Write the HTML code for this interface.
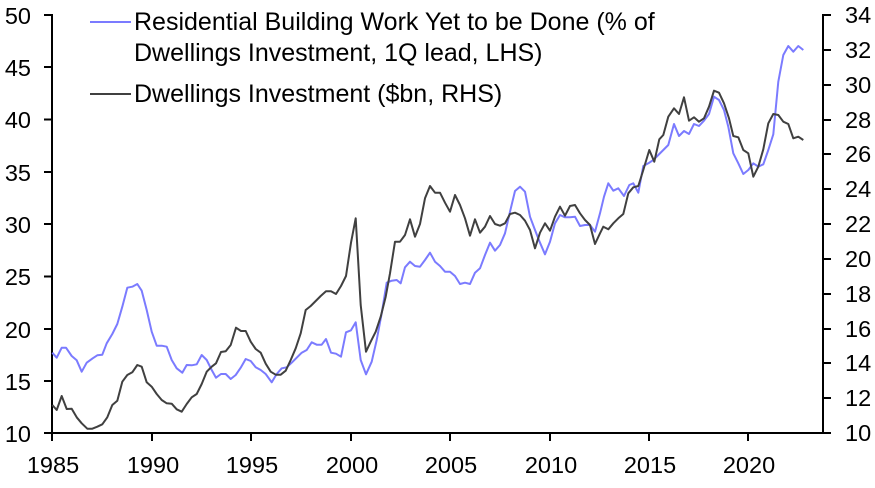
<!DOCTYPE html>
<html><head><meta charset="utf-8"><style>
html,body{margin:0;padding:0;background:#fff;}
svg{display:block;font-family:"Liberation Sans",Arial,sans-serif;}
</style></head><body>
<svg width="875" height="488" viewBox="0 0 875 488" xmlns="http://www.w3.org/2000/svg">
<g stroke="#000" stroke-width="2" fill="none">
<line x1="52" y1="14" x2="52" y2="433"/>
<line x1="823" y1="14" x2="823" y2="433"/>
<line x1="51" y1="433" x2="824" y2="433"/>
<path d="M44 15H52M44 67H52M44 119.5H52M44 172H52M44 224H52M44 276.5H52M44 329H52M44 381H52M44 433H52"/>
<path d="M823 15H831M823 50H831M823 85H831M823 120H831M823 154H831M823 189H831M823 224H831M823 259H831M823 294H831M823 329H831M823 363H831M823 398H831M823 433H831"/>
<path d="M52 433V441M152 433V441M251 433V441M351 433V441M450 433V441M550 433V441M649 433V441M748 433V441"/>
</g>
<g font-size="23.5" fill="#000" text-anchor="end">
<text x="31" y="24">50</text><text x="31" y="76">45</text><text x="31" y="128">40</text><text x="31" y="181">35</text><text x="31" y="233">30</text><text x="31" y="285">25</text><text x="31" y="338">20</text><text x="31" y="390">15</text><text x="31" y="442">10</text>
</g>
<g font-size="23.5" fill="#000" text-anchor="start">
<text x="845" y="23">34</text><text x="845" y="58">32</text><text x="845" y="93">30</text><text x="845" y="128">28</text><text x="845" y="162">26</text><text x="845" y="197">24</text><text x="845" y="232">22</text><text x="845" y="267">20</text><text x="845" y="302">18</text><text x="845" y="337">16</text><text x="845" y="371">14</text><text x="845" y="406">12</text><text x="845" y="441">10</text>
</g>
<g font-size="23.5" fill="#000" text-anchor="middle">
<text x="53" y="473">1985</text><text x="153" y="473">1990</text><text x="252" y="473">1995</text><text x="352" y="473">2000</text><text x="451" y="473">2005</text><text x="551" y="473">2010</text><text x="650" y="473">2015</text><text x="749" y="473">2020</text>
</g>
<polyline fill="none" stroke="#7B7BFF" stroke-width="2" stroke-linejoin="round" points="52.3,352.7 56.7,357.7 61.7,347.7 66,347.7 71.7,356 76.7,360.3 81.7,371.7 86.7,362.7 92.7,358.3 97.3,355.3 102.3,354.7 106.7,343.3 112.3,334 117.3,324 122.3,306.7 127.3,287.7 132.3,286.7 137.3,284 141.7,290.7 146.7,310 151.7,331.7 156.7,345.7 161.7,345.7 166.7,346.7 171.7,360 176.7,368.3 182.3,372.7 186.7,365 191.7,365.3 196.7,364.3 201.7,355 206.7,360 211.7,370 216,377.7 221,374 225.7,374 230.7,379 235.7,375 240.7,367.7 245.7,359 250.7,361 255.7,367.3 260.7,370 265.7,374 271.7,382.3 276.7,374 281.7,368.3 286.7,367.3 291.7,362.7 296.7,357.7 301.7,352.7 306.7,350 311.7,342.3 316.7,344.7 321.7,344.7 326,339 331,352.7 336,353.7 341,356.7 346,332.3 351,330.3 355.7,322.3 360.7,360 366,374.3 371.7,361.7 376.7,340 381.7,313.3 386.7,282.7 391.7,280.7 396.7,280 400.7,283.3 405,267.3 410,261.7 415,266 420,266.7 425,260 430,252.7 435,261.7 440,266 445,271.7 450,271.7 455,276 460,284 465,282.7 470,284 475,272.7 480,268.3 485,255 490,242.7 495,250.7 500,245 505,233.3 510,211.7 515,191 520,186.7 525,191.7 530,216.7 535,230 540,242.7 545,254.3 550,241.7 555,223.3 560,215 565,217.3 570,217.3 575,216.7 580,226 585,225 590,225 595,231.7 600,213.3 604,196.7 608.3,183.3 613.3,190.7 618.3,188.3 624,196 629.3,185 633.3,183.3 638.3,192.7 643.3,166 648.3,163.3 653.3,160 658.3,155 663.3,150 668.3,145 674,124 679,136 684,131 689,134 694,124 699,126 704,120.7 709,114 714,96.7 719,100 724,110 728.3,126.7 733.3,153.3 738.3,163.3 743.3,174 748.3,170 753.3,163.3 758.3,166.7 763.3,164.3 768.3,150 773.3,134.3 778.3,81.7 783.3,55 788.3,46 793.3,51.7 798.3,46 803.3,50"/>
<polyline fill="none" stroke="#404040" stroke-width="2" stroke-linejoin="round" points="52.3,405 56.7,410 61.7,396 66.7,409 71.7,408.7 76.7,417.3 81.7,423.3 87.3,428.7 92.3,428.7 97.3,426.7 102.3,424.3 107.3,417.3 112.3,405 117.3,400.7 122.3,381.7 127.3,375 132.3,372.3 137.3,365 141.7,366.7 146.7,382.3 151.7,386.7 156.7,394 161.7,400 166.7,403.3 171.7,403.7 176.7,409.3 181.7,411.7 186.7,404 191.7,397.3 196.7,394 201.7,384 206.7,371.7 211.7,366.7 216,363.3 221,352 225.7,351.3 230.7,345 236,327.7 241,331 245.7,331 250.7,341.7 255.7,349 260.7,352.7 265.7,363.7 270.7,371.7 275.7,374.7 280.7,374.7 285.7,370.7 290.7,360 295.7,348.3 300.7,333.3 305.7,310 310.7,306 315.7,301 320.7,296 326,291.3 331,291.3 336,294 341,286 346,276 351,242.7 355.7,218.3 360.7,305 366,351.7 370.7,341.7 375.7,331.7 380.7,316.7 385.7,296.7 390,273.3 395,241.7 400,241.7 405,235 410,219.3 415,236.7 420,224 425,198.3 430,186 435,192.7 440,192.7 445,202.7 450,211.7 455,195 460,205 465,218.3 470,235.7 475,219.3 480,232.7 485,226.7 490,216 495,224 500,225.7 505,223.3 510,214 515,212.7 520,215 525,220.7 530,230 535,248.3 540,232.7 545,223.3 550,230.7 555,216.7 560,206.7 565,215.7 570,206 575,205 580,213.3 585,220 590,225 595,244 600,233.3 603.3,226.7 608.3,229.3 613.3,223.3 618.3,218.3 623.3,214 628.3,193.3 633.3,187.3 638.3,186 643.3,170 649.3,150 654.3,161.7 659.3,139.3 663.3,135 668.3,116.7 674,108.3 679,114 684,97.3 689,120.7 694,117.3 699,121.7 704,118.3 709,106.7 714,90.7 719,92.7 724,103.3 729,118.3 733.3,136 738.3,137.3 743.3,150 748.3,153.3 753.3,176.7 758.3,166.7 763.3,149.3 768.3,123.3 773.3,114 778.3,115 783.3,121.7 788.3,124 793.3,138.3 798.3,136.7 803.3,140"/>
<line x1="90" y1="22" x2="131" y2="22" stroke="#7B7BFF" stroke-width="2"/>
<line x1="90" y1="94" x2="131" y2="94" stroke="#404040" stroke-width="2"/>
<g font-size="25" fill="#000">
<text x="134" y="30">Residential Building Work Yet to be Done (% of</text>
<text x="134" y="61">Dwellings Investment, 1Q lead, LHS)</text>
<text x="134" y="102">Dwellings Investment ($bn, RHS)</text>
</g>
</svg>
</body></html>
